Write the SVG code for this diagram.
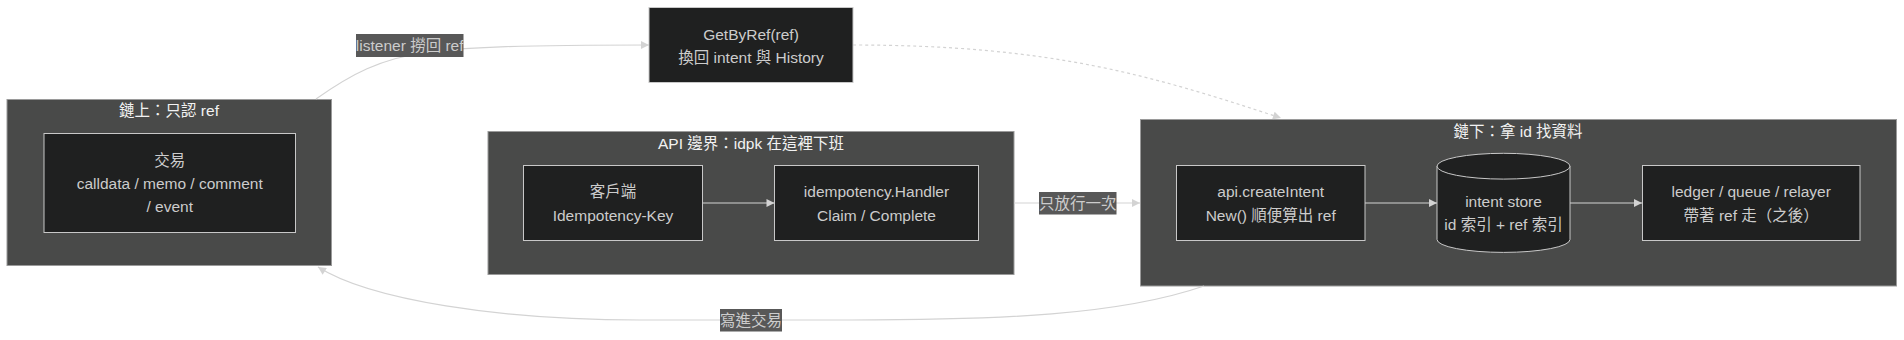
<svg xmlns="http://www.w3.org/2000/svg" width="1904" height="340" viewBox="0 0 1904 340">
<defs>
<style>
text{font-family:"Liberation Sans","Noto Sans CJK TC",sans-serif;font-size:15.5px;text-anchor:middle;}
.cluster{fill:#494a49;stroke:#9a9a9a;stroke-width:1;}
.ctitle{fill:#f2f2f2;}
.node{fill:#1f2020;stroke:#c8c8c8;stroke-width:1;}
.ntext{fill:#cccccc;}
.edge{fill:none;stroke:#d3d3d3;stroke-width:1.2;marker-end:url(#arrow);}
.dotted{stroke-dasharray:3 3;}
.lbg{fill:#585858;}
.ltext{fill:#cccccc;}
</style>
<marker id="arrow" viewBox="0 0 10 10" refX="10" refY="5" markerUnits="userSpaceOnUse" markerWidth="9" markerHeight="8" orient="auto">
<path d="M0,0 L10,5 L0,10 z" fill="#d3d3d3"/>
</marker>
</defs>
<rect width="1904" height="340" fill="#ffffff"/>

<g id="cluster-onchain">
<rect class="cluster" x="7" y="99.5" width="324.5" height="166"/>
<text class="ctitle" x="169" y="116">鏈上：只認 ref</text>
</g>
<g id="cluster-api">
<rect class="cluster" x="488" y="131.5" width="526" height="143"/>
<text class="ctitle" x="751" y="148.5">API 邊界：idpk 在這裡下班</text>
</g>
<g id="cluster-offchain">
<rect class="cluster" x="1140.5" y="119.5" width="756" height="166.5"/>
<text class="ctitle" x="1518" y="137">鏈下：拿 id 找資料</text>
</g>

<g id="connectors">
<path class="edge" d="M316,99 C350,75 380,58 430,52 C470,47 520,45 649,45"/>
<path class="edge dotted" d="M853,45 C1050,45 1150,75 1281,118"/>
<path class="edge" d="M702.5,203 L774.5,203"/>
<path class="edge" d="M1014,203 L1140,203"/>
<path class="edge" d="M1365,203 L1437,203"/>
<path class="edge" d="M1570,203 L1642,203"/>
<path class="edge" d="M1204,286 C1120,315 1000,320 850,320 L640,320 C500,320 370,300 318,267"/>
</g>

<g id="edge-labels">
<rect class="lbg" x="356" y="34" width="107.5" height="23"/>
<text class="ltext" x="409.7" y="51">listener 撈回 ref</text>
<rect class="lbg" x="1039" y="192" width="77.5" height="22.5"/>
<text class="ltext" x="1077.7" y="209">只放行一次</text>
<rect class="lbg" x="720" y="309" width="62" height="22.5"/>
<text class="ltext" x="751" y="326">寫進交易</text>
</g>

<g id="node-tx">
<rect class="node" x="44" y="133.5" width="251.5" height="99"/>
<text class="ntext" x="169.7" y="165.5">交易</text>
<text class="ntext" x="169.7" y="188.5">calldata / memo / comment</text>
<text class="ntext" x="169.7" y="211.5">/ event</text>
</g>
<g id="node-getbyref">
<rect class="node" x="649" y="7.5" width="204" height="75"/>
<text class="ntext" x="751" y="39.5">GetByRef(ref)</text>
<text class="ntext" x="751" y="63">換回 intent 與 History</text>
</g>
<g id="node-client">
<rect class="node" x="523.5" y="165.5" width="179" height="75"/>
<text class="ntext" x="613" y="197">客戶端</text>
<text class="ntext" x="613" y="220.5">Idempotency-Key</text>
</g>
<g id="node-handler">
<rect class="node" x="774.5" y="165.5" width="204" height="75"/>
<text class="ntext" x="876.5" y="197">idempotency.Handler</text>
<text class="ntext" x="876.5" y="220.5">Claim / Complete</text>
</g>
<g id="node-createintent">
<rect class="node" x="1176.5" y="165.5" width="188.5" height="75"/>
<text class="ntext" x="1270.7" y="197">api.createIntent</text>
<text class="ntext" x="1270.7" y="220.5">New() 順便算出 ref</text>
</g>
<g id="node-store">
<path class="node" d="M1437,166.2 a66.5,12.9 0 0 0 133,0 a66.5,12.9 0 0 0 -133,0 l0,73.3 a66.5,12.9 0 0 0 133,0 l0,-73.3"/>
<text class="ntext" x="1503.5" y="206.5">intent store</text>
<text class="ntext" x="1503.5" y="230">id 索引 + ref 索引</text>
</g>
<g id="node-ledger">
<rect class="node" x="1642.5" y="165.5" width="217.5" height="75"/>
<text class="ntext" x="1751.2" y="197">ledger / queue / relayer</text>
<text class="ntext" x="1751.2" y="220.5">帶著 ref 走（之後）</text>
</g>
</svg>
